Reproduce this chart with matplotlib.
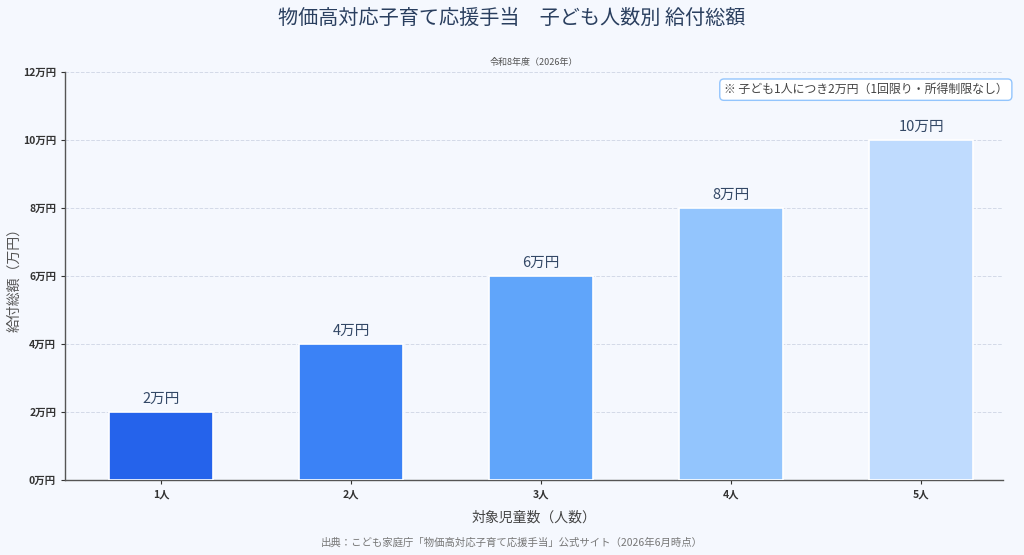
import matplotlib
matplotlib.use("Agg")
import matplotlib.pyplot as plt
from matplotlib.ticker import FuncFormatter, MultipleLocator

plt.rcParams['font.family'] = ['Noto Sans CJK JP', 'DejaVu Sans']

# ---- data ----
categories = ["1人", "2人", "3人", "4人", "5人"]
amounts = [2, 4, 6, 8, 10]          # 万円
bar_colors = ["#2563eb", "#3b82f6", "#60a5fa", "#93c5fd", "#bfdbfe"]

title = "物価高対応子育て応援手当　子ども人数別 給付総額"
subtitle = "令和8年度（2026年）"
note = "※ 子ども1人につき2万円（1回限り・所得制限なし）"
source = "出典：こども家庭庁「物価高対応子育て応援手当」公式サイト（2026年6月時点）"

bg = "#f5f8fe"
fig = plt.figure(figsize=(10.24, 5.55), dpi=100, facecolor=bg)
ax = fig.add_axes([0.0635, 0.135, 0.916, 0.735], facecolor=bg)

x = list(range(len(categories)))
bars = ax.bar(x, amounts, width=0.545, color=bar_colors, edgecolor="white", linewidth=1.2, zorder=3)
for b, v in zip(bars, amounts):
    ax.text(b.get_x() + b.get_width() / 2, v + 0.18, f"{v}万円", ha="center", va="bottom",
            fontsize=10.5, color="#334866", zorder=4)

ax.set_xlim(-0.505, 4.43)
ax.set_ylim(0, 12)
ax.yaxis.set_major_locator(MultipleLocator(2))
ax.yaxis.set_major_formatter(FuncFormatter(lambda v, p: f"{int(v)}万円"))
ax.set_xticks(x)
ax.set_xticklabels(categories)
ax.tick_params(axis="both", labelsize=7.5, colors="#333333", length=3)
for lab in ax.get_yticklabels() + ax.get_xticklabels():
    lab.set_fontweight("bold")

ax.grid(axis="y", linestyle="--", color="#d3dae8", linewidth=0.7, zorder=0)
for s in ["top", "right"]:
    ax.spines[s].set_visible(False)
for s in ["left", "bottom"]:
    ax.spines[s].set_color("#555555")
    ax.spines[s].set_linewidth(1.0)

ax.set_ylabel("給付総額（万円）", fontsize=10, color="#555555", labelpad=1)
ax.set_xlabel("対象児童数（人数）", fontsize=10, color="#444444", labelpad=8)

ax.text(0.5, 1.012, subtitle, transform=ax.transAxes, ha="center", va="bottom",
        fontsize=6.5, color="#555555")
ax.text(1.005, 0.973, note, transform=ax.transAxes, ha="right", va="top",
        fontsize=8.6, color="#444444",
        bbox=dict(boxstyle="round,pad=0.35", facecolor="white", edgecolor="#93c5fd", linewidth=1))

fig.text(0.5, 0.967, title, ha="center", va="center", fontsize=14.5, color="#2a3f5f")
fig.text(0.5, 0.023, source, ha="center", va="center", fontsize=7.5, color="#777777")

fig.savefig("out.png", dpi=100, facecolor=bg)
